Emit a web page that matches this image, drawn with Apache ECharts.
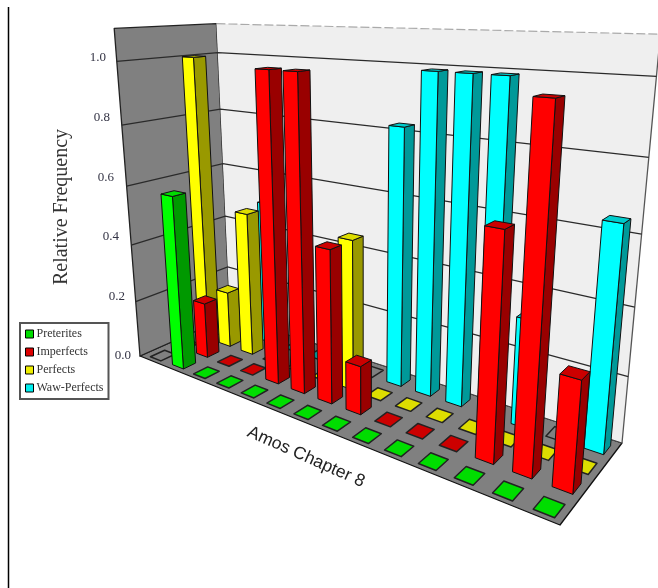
<!DOCTYPE html>
<html><head><meta charset="utf-8">
<style>html,body{margin:0;padding:0;background:#fff}#c{width:658px;height:588px}</style>
<script src="https://cdn.jsdelivr.net/npm/echarts@6/dist/echarts.min.js"></script>
</head><body><div id="c"></div>
<script>
// ---- data ----
const verses = ['1','2','3','4','5','6','7','8','9','10','11','12','13','14'];
const preterites   = [0,0.59,0,0,0,0,0,0,0,0,0,0,0,0];
const imperfects   = [0,0.195,0,0,0.99,0.99,0.49,0.155,0,0,0,0.645,0.97,0.31];
const perfects     = [1,0.2,0.5,0,0,0,0.49,0,0,0,0,0,0,0];
const wawPerfects  = [0,0,0.51,0,0,0,0,0.825,0.99,0.99,0.99,0.33,0,0.645];
const yTicks = [0,0.2,0.4,0.6,0.8,1];
const axisTop = 1.1;
const xTitle = 'Amos Chapter 8';
const yTitle = 'Relative Frequency';
// flat (zero) markers that the source paints mostly in floor colour
const dimFlats = {'Preterites':[0],'Waw-Perfects':[6,12]};

// ---- camera calibration (floor corners and wall edges) ----
const floorQuad = [[140,356],[560,525],[622,443],[230,316]];
const edgeObs = [
 [0,0,.2,136,300],[0,0,.4,132,245],[0,0,.6,127,185],[0,0,.8,123,124],[0,0,1,118,60],[0,0,1.1,114,26],
 [0,1,.2,228,265],[0,1,.4,225,213],[0,1,.6,222,160],[0,1,.8,220,105],[0,1,1,218,48],[0,1,1.1,216,19],
 [1,1,.2,628,378],[1,1,.4,635,311],[1,1,.6,642,239],[1,1,.8,649,165],[1,1,1,657,86],[1,1,1.1,658,45]];

function buildCamera(){
  const [p0,p1,p2,p3]=floorQuad;
  const dx1=p1[0]-p2[0],dx2=p3[0]-p2[0],sx=p0[0]-p1[0]+p2[0]-p3[0];
  const dy1=p1[1]-p2[1],dy2=p3[1]-p2[1],sy=p0[1]-p1[1]+p2[1]-p3[1];
  const den=dx1*dy2-dx2*dy1;
  const g=(sx*dy2-dx2*sy)/den,h=(dx1*sy-sx*dy1)/den;
  const a=p1[0]-p0[0]+g*p1[0],b=p3[0]-p0[0]+h*p3[0],c=p0[0];
  const d=p1[1]-p0[1]+g*p1[1],e=p3[1]-p0[1]+h*p3[1],f=p0[1];
  const N=[[0,0,0,0],[0,0,0,0],[0,0,0,0]];
  const add=(r,t)=>{for(let i=0;i<3;i++){for(let j=0;j<3;j++)N[i][j]+=r[i]*r[j];N[i][3]+=r[i]*t;}};
  edgeObs.forEach(([u,v,w,x,y])=>{
    const D=g*u+h*v+1;
    add([w,0,-x*w],x*D-(a*u+b*v+c));
    add([0,w,-y*w],y*D-(d*u+e*v+f));
  });
  for(let i=0;i<3;i++){
    for(let k=i+1;k<3;k++){const m=N[k][i]/N[i][i];for(let j=i;j<4;j++)N[k][j]-=m*N[i][j];}
  }
  const s=[0,0,0];
  for(let i=2;i>=0;i--){let t=N[i][3];for(let j=i+1;j<3;j++)t-=N[i][j]*s[j];s[i]=t/N[i][i];}
  return (u,v,w)=>{
    const D=g*u+h*v+s[2]*w+1;
    return [(a*u+b*v+s[0]*w+c)/D,(d*u+e*v+s[1]*w+f)/D];
  };
}
const project=buildCamera();

// ---- series ----
const rows=[
 {name:'Waw-Perfects',values:wawPerfects,row:3,front:'#00ffff',side:'#009999',top:'#00cccc'},
 {name:'Perfects',values:perfects,row:2,front:'#ffff00',side:'#999900',top:'#dddd00'},
 {name:'Imperfects',values:imperfects,row:1,front:'#ff0000',side:'#990000',top:'#cc0000'},
 {name:'Preterites',values:preterites,row:0,front:'#00ff00',side:'#009900',top:'#00dd00'}
];
const barU=0.5, barV=0.5, flatV=0.58, uShift=0.06, vShift=-0.012, outline='#111', floorGrey='#808080';
function poly(pts,fill,stroke,lw,dash){
  return {type:'polygon',shape:{points:pts},style:{fill:fill,stroke:stroke||outline,lineWidth:lw||1,lineDash:dash,lineJoin:'round'},silent:true};
}
function barRenderer(r){
  return function(params,api){
    const i=api.value(0), val=api.value(1);
    const n=verses.length;
    const dv=val>0?barV:flatV;
    const u0=(i+.5+uShift-barU/2)/n,u1=(i+.5+uShift+barU/2)/n;
    const v0=(r.row+.5-dv/2)/4+vShift,v1=(r.row+.5+dv/2)/4+vShift;
    const P=(u,v,w)=>project(u,v,w);
    const kids=[];
    if(val>0){
      kids.push(poly([P(u1,v0,0),P(u1,v1,0),P(u1,v1,val),P(u1,v0,val)],r.side));
      kids.push(poly([P(u0,v0,0),P(u1,v0,0),P(u1,v0,val),P(u0,v0,val)],r.front));
    }
    const dim=val===0&&(dimFlats[r.name]||[]).indexOf(i)>=0;
    kids.push(poly([P(u0,v0,val),P(u1,v0,val),P(u1,v1,val),P(u0,v1,val)],dim?floorGrey:r.top,val===0?'#222':outline,val===0?1.5:1));
    return {type:'group',children:kids};
  };
}
function wallRenderer(){
  const P=project, T=axisTop, kids=[];
  kids.push(poly([P(0,0,0),P(1,0,0),P(1,1,0),P(0,1,0)],floorGrey,'#111',1.3));
  kids.push(poly([P(0,0,0),P(0,1,0),P(0,1,T),P(0,0,T)],floorGrey,'#222',1.3));
  kids.push({type:'polygon',shape:{points:[P(0,1,0),P(1,1,0),P(1,1,T),P(0,1,T)]},style:{fill:'#efefef',stroke:null},silent:true});
  kids.push({type:'line',shape:{x1:P(1,1,0)[0],y1:P(1,1,0)[1],x2:P(1,1,T)[0],y2:P(1,1,T)[1]},style:{stroke:'#555',lineWidth:1.3},silent:true});
  kids.push({type:'line',shape:{x1:P(0,1,T)[0],y1:P(0,1,T)[1],x2:P(1,1,T)[0],y2:P(1,1,T)[1]},style:{stroke:'#aaa',lineWidth:1.2,lineDash:[9,3]},silent:true});
  yTicks.forEach(t=>{
    if(t===0)return;
    const a=P(0,0,t),b=P(0,1,t),c=P(1,1,t);
    kids.push({type:'polyline',shape:{points:[a,b,c]},style:{stroke:'#2a2a2a',lineWidth:1.3,fill:null},silent:true});
  });
  const f=P(0,1,0),g=P(1,1,0);
  kids.push({type:'line',shape:{x1:f[0],y1:f[1],x2:g[0],y2:g[1]},style:{stroke:'#444',lineWidth:1},silent:true});
  return {type:'group',children:kids};
}

const labelFont='"Liberation Serif","Times New Roman",serif';
const tickPad=[0,6,12,17,21,25];
const rich={};
yTicks.forEach((t,i)=>{rich['t'+i]={padding:[0,tickPad[i],0,0],fontFamily:labelFont,fontSize:13,color:'#334'};});

const chart=echarts.init(document.getElementById('c'),null,{renderer:'canvas'});
chart.setOption({
  animation:false,
  backgroundColor:'#fff',
  grid:{left:140,top:58,width:332,height:298},
  xAxis:{type:'category',data:verses,axisLine:{show:false},axisTick:{show:false},axisLabel:{show:false},splitLine:{show:false},
    name:xTitle,nameLocation:'middle',nameGap:101,nameRotate:-24,
    nameTextStyle:{fontFamily:'"Liberation Sans",Arial,sans-serif',fontSize:17.5,color:'#222',align:'center',verticalAlign:'middle'}},
  yAxis:{type:'value',min:0,max:1,interval:0.2,axisLine:{show:false},axisTick:{show:false},splitLine:{show:false},
    axisLabel:{margin:9,align:'right',formatter:(v)=>{const i=yTicks.findIndex(t=>Math.abs(t-v)<1e-6);return '{t'+i+'|'+v.toFixed(1)+'}';},rich:rich},
    name:yTitle,nameLocation:'middle',nameGap:68,nameRotate:90,
    nameTextStyle:{fontFamily:labelFont,fontSize:20,color:'#333'}},
  legend:{left:20,top:323,orient:'vertical',align:'left',itemWidth:8,itemHeight:8,itemGap:6,padding:[5,5,5,5],
    borderColor:'#555',borderWidth:2,backgroundColor:'#fff',icon:'rect',selectedMode:false,
    textStyle:{fontFamily:labelFont,fontSize:12,color:'#333',padding:[0,0,0,-2]},
    data:[
     {name:'Preterites',itemStyle:{color:'#00dd00',borderColor:'#000',borderWidth:1}},
     {name:'Imperfects',itemStyle:{color:'#dd0000',borderColor:'#000',borderWidth:1}},
     {name:'Perfects',itemStyle:{color:'#eeee00',borderColor:'#000',borderWidth:1}},
     {name:'Waw-Perfects',itemStyle:{color:'#00eeee',borderColor:'#000',borderWidth:1}}]},
  graphic:[{type:'line',shape:{x1:8.5,y1:7,x2:8.5,y2:588},style:{stroke:'#000',lineWidth:1.5},silent:true}],
  series:[
    {type:'custom',name:'walls',renderItem:wallRenderer,data:[[0,0]],silent:true,z:1},
    ...rows.map(r=>({type:'custom',name:r.name,renderItem:barRenderer(r),z:2,silent:true,
      itemStyle:{color:r.front},
      encode:{x:0,y:1},
      data:r.values.map((v,i)=>[i,v])}))
  ]
});
</script></body></html>
